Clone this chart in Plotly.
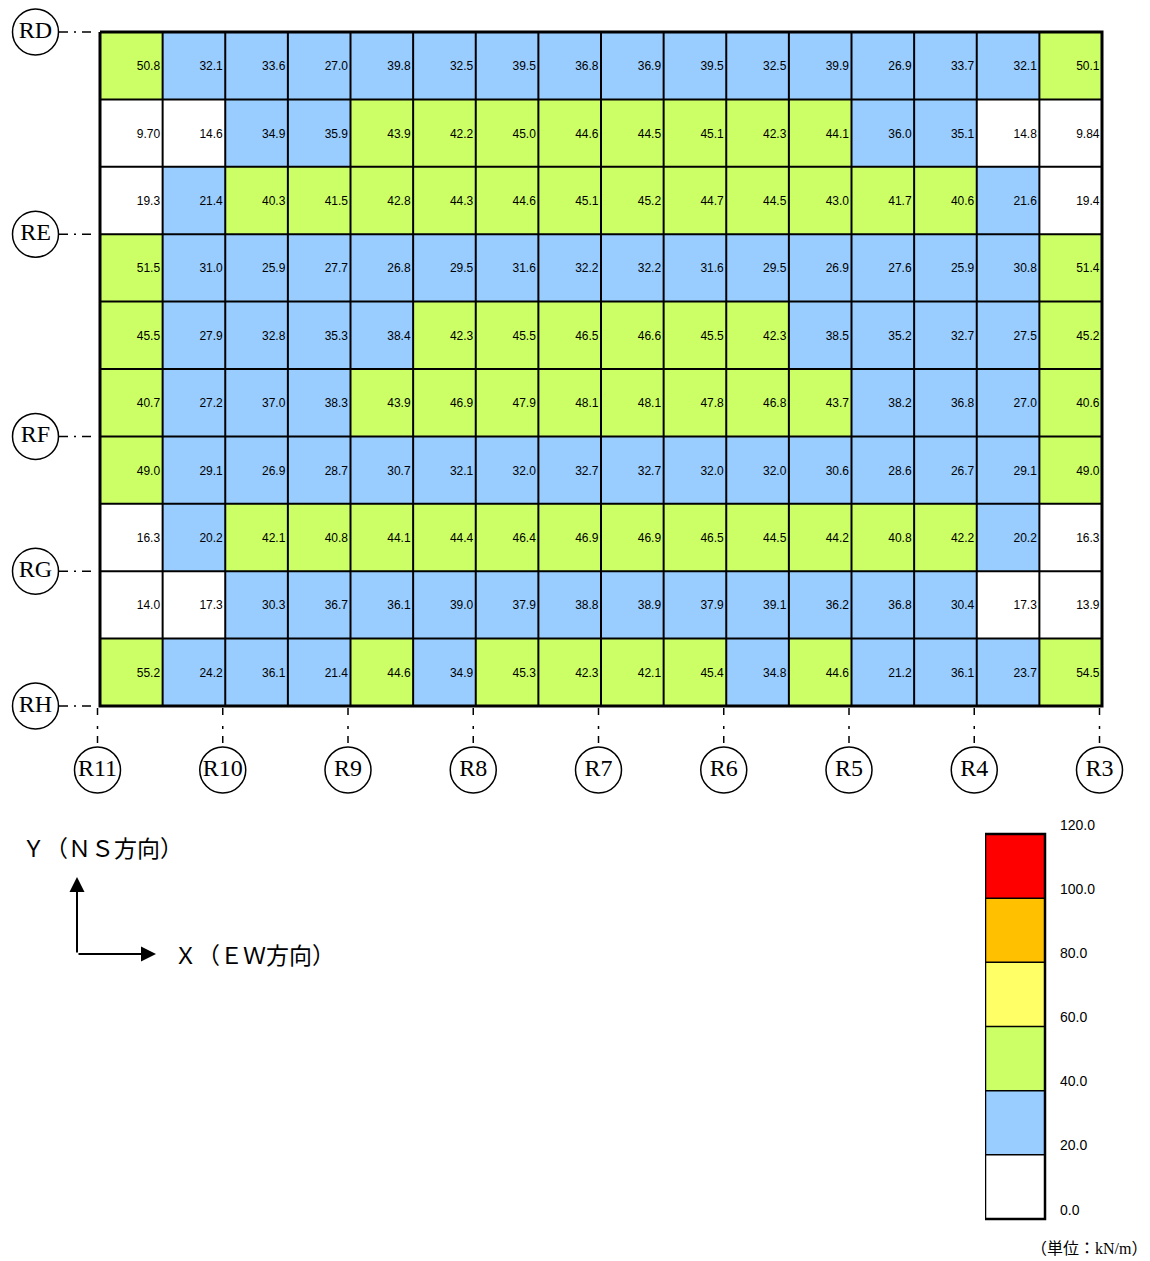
import plotly.graph_objects as go

# ---- panel values (kN/m), one list per strip, top (RD side) to bottom (RH side),
# ---- each running from the R11 side (left) to the R3 side (right)
strip_01 = [50.8, 32.1, 33.6, 27.0, 39.8, 32.5, 39.5, 36.8, 36.9, 39.5, 32.5, 39.9, 26.9, 33.7, 32.1, 50.1]
strip_02 = [9.70, 14.6, 34.9, 35.9, 43.9, 42.2, 45.0, 44.6, 44.5, 45.1, 42.3, 44.1, 36.0, 35.1, 14.8, 9.84]
strip_03 = [19.3, 21.4, 40.3, 41.5, 42.8, 44.3, 44.6, 45.1, 45.2, 44.7, 44.5, 43.0, 41.7, 40.6, 21.6, 19.4]
strip_04 = [51.5, 31.0, 25.9, 27.7, 26.8, 29.5, 31.6, 32.2, 32.2, 31.6, 29.5, 26.9, 27.6, 25.9, 30.8, 51.4]
strip_05 = [45.5, 27.9, 32.8, 35.3, 38.4, 42.3, 45.5, 46.5, 46.6, 45.5, 42.3, 38.5, 35.2, 32.7, 27.5, 45.2]
strip_06 = [40.7, 27.2, 37.0, 38.3, 43.9, 46.9, 47.9, 48.1, 48.1, 47.8, 46.8, 43.7, 38.2, 36.8, 27.0, 40.6]
strip_07 = [49.0, 29.1, 26.9, 28.7, 30.7, 32.1, 32.0, 32.7, 32.7, 32.0, 32.0, 30.6, 28.6, 26.7, 29.1, 49.0]
strip_08 = [16.3, 20.2, 42.1, 40.8, 44.1, 44.4, 46.4, 46.9, 46.9, 46.5, 44.5, 44.2, 40.8, 42.2, 20.2, 16.3]
strip_09 = [14.0, 17.3, 30.3, 36.7, 36.1, 39.0, 37.9, 38.8, 38.9, 37.9, 39.1, 36.2, 36.8, 30.4, 17.3, 13.9]
strip_10 = [55.2, 24.2, 36.1, 21.4, 44.6, 34.9, 45.3, 42.3, 42.1, 45.4, 34.8, 44.6, 21.2, 36.1, 23.7, 54.5]

# grid-line names and the panel boundaries they sit on
row_axis_names = ["RD", "RE", "RF", "RG", "RH"]
row_axis_at = [0, 3, 6, 8, 10]
col_axis_names = ["R11", "R10", "R9", "R8", "R7", "R6", "R5", "R4", "R3"]
col_axis_at = [0, 2, 4, 6, 8, 10, 12, 14, 16]

# legend classes
legend_breaks = [0, 20, 40, 60, 80, 100, 120]
legend_colors = ["#FFFFFF", "#99CCFF", "#CCFF66", "#FFFF66", "#FFC000", "#FF0000"]

cell_values = [strip_01, strip_02, strip_03, strip_04, strip_05,
               strip_06, strip_07, strip_08, strip_09, strip_10]
n_rows = len(cell_values)
n_cols = len(cell_values[0])

# ---- page geometry (pixels)
W, H = 1150, 1261
G_LEFT, G_RIGHT, G_TOP, G_BOTTOM = 100, 1102, 32, 706
PX_COL = (G_RIGHT - G_LEFT) / n_cols
PX_ROW = (G_BOTTOM - G_TOP) / n_rows


def dx(px):
    return (px - G_LEFT) / PX_COL


def dy(py):
    return (py - G_TOP) / PX_ROW


# discrete colour scale built from the legend classes
zmin, zmax = legend_breaks[0], legend_breaks[-1]
colorscale = []
for lo, hi, c in zip(legend_breaks[:-1], legend_breaks[1:], legend_colors):
    colorscale.append([(lo - zmin) / (zmax - zmin), c])
    colorscale.append([(hi - zmin) / (zmax - zmin), c])

fig = go.Figure()

col_centers = [i + 0.5 for i in range(n_cols)]
row_centers = [j + 0.5 for j in range(n_rows)]

fig.add_trace(go.Heatmap(
    z=cell_values, x=col_centers, y=row_centers,
    colorscale=colorscale, zmin=zmin, zmax=zmax,
    showscale=False, hoverinfo="skip",
))

# inner panel lines
gx, gy = [], []
for i in range(1, n_cols):
    gx += [i, i, None]
    gy += [0, n_rows, None]
for j in range(1, n_rows):
    gx += [0, n_cols, None]
    gy += [j, j, None]
fig.add_trace(go.Scatter(x=gx, y=gy, mode="lines",
                         line=dict(color="black", width=2),
                         hoverinfo="skip", showlegend=False))
# outer frame
fig.add_trace(go.Scatter(x=[0, n_cols, n_cols, 0, 0], y=[0, 0, n_rows, n_rows, 0],
                         mode="lines", line=dict(color="black", width=3),
                         hoverinfo="skip", showlegend=False))

# value labels, right-aligned inside each panel
tx, ty, tt = [], [], []
for j, row in enumerate(cell_values):
    for i, v in enumerate(row):
        tx.append(i + 1 - 2.5 / PX_COL)
        ty.append(j + 0.5 + 1.5 / PX_ROW)
        tt.append(f"{v:#.3g}")
fig.add_trace(go.Scatter(x=tx, y=ty, text=tt, mode="text",
                         textposition="middle left",
                         textfont=dict(family="Liberation Sans, Arial", size=12, color="black"),
                         hoverinfo="skip", showlegend=False))

# grid-line leaders (dash-dot)
row_cx = 35.5
for pos in row_axis_at:
    fig.add_trace(go.Scatter(x=[dx(row_cx + 23.5), dx(91)], y=[pos, pos], mode="lines",
                             line=dict(color="black", width=1.5, dash="9px,6px,2px,6px"),
                             hoverinfo="skip", showlegend=False))
col_cy = 770
for pos in col_axis_at:
    xx = pos - 2.5 / PX_COL
    fig.add_trace(go.Scatter(x=[xx, xx], y=[dy(G_BOTTOM + 2), dy(col_cy - 23.5)], mode="lines",
                             line=dict(color="black", width=1.5, dash="7px,11px,3px,7px"),
                             hoverinfo="skip", showlegend=False))

# grid-line bubbles
bubble_font = dict(family="Liberation Serif, DejaVu Serif", size=24, color="black")
bubble_marker = dict(symbol="circle", size=46, color="white", line=dict(color="black", width=1.5))
fig.add_trace(go.Scatter(x=[dx(row_cx)] * len(row_axis_at), y=row_axis_at,
                         text=row_axis_names, mode="markers+text", textposition="middle center",
                         marker=bubble_marker, textfont=bubble_font,
                         hoverinfo="skip", showlegend=False, cliponaxis=False))
fig.add_trace(go.Scatter(x=[p - 2.5 / PX_COL for p in col_axis_at], y=[dy(col_cy)] * len(col_axis_at),
                         text=col_axis_names, mode="markers+text", textposition="middle center",
                         marker=bubble_marker, textfont=bubble_font,
                         hoverinfo="skip", showlegend=False, cliponaxis=False))

# ---- legend bar on its own axes (bar spans x 0..1; the labels sit to its right)
LB_LEFT, LB_RIGHT, LB_TOP, LB_BOTTOM = 985, 1045, 834, 1219
LB_AREA_RIGHT = W
bar_px = LB_RIGHT - LB_LEFT
x2_max = (LB_AREA_RIGHT - LB_LEFT) / bar_px

mids = [(a + b) / 2 for a, b in zip(legend_breaks[:-1], legend_breaks[1:])]
fig.add_trace(go.Heatmap(z=[[m] for m in mids], x=[0, 1], y=legend_breaks,
                         colorscale=colorscale, zmin=zmin, zmax=zmax,
                         showscale=False, hoverinfo="skip", xaxis="x2", yaxis="y2"))
lx, ly = [], []
for b in legend_breaks[1:-1]:
    lx += [0, 1, None]
    ly += [b, b, None]
fig.add_trace(go.Scatter(x=lx, y=ly, mode="lines", line=dict(color="black", width=1.5),
                         xaxis="x2", yaxis="y2", hoverinfo="skip", showlegend=False))
fig.add_trace(go.Scatter(x=[0, 1, 1, 0, 0], y=[zmin, zmin, zmax, zmax, zmin], mode="lines",
                         line=dict(color="black", width=2.5),
                         xaxis="x2", yaxis="y2", hoverinfo="skip", showlegend=False, cliponaxis=False))

units_per_px = (zmax - zmin) / (LB_BOTTOM - LB_TOP)
fig.add_trace(go.Scatter(x=[1 + 15 / bar_px] * len(legend_breaks),
                         y=[b + 8 * units_per_px for b in legend_breaks],
                         text=[f"{b:.1f}" for b in legend_breaks], mode="text",
                         textposition="middle right",
                         textfont=dict(family="Liberation Sans, Arial", size=14, color="black"),
                         xaxis="x2", yaxis="y2", hoverinfo="skip", showlegend=False, cliponaxis=False))

pad_units = 12 * units_per_px
hidden = dict(visible=False, fixedrange=True, showgrid=False, zeroline=False)
fig.update_layout(
    width=W, height=H, autosize=False,
    margin=dict(l=0, r=0, t=0, b=0, pad=0),
    paper_bgcolor="white", plot_bgcolor="rgba(0,0,0,0)",
    showlegend=False,
    xaxis=dict(domain=[0, 1], range=[dx(0), dx(W)], **hidden),
    yaxis=dict(domain=[0, 1], range=[dy(H), dy(0)], **hidden),
    xaxis2=dict(domain=[LB_LEFT / W, LB_AREA_RIGHT / W], range=[0, x2_max], anchor="y2", **hidden),
    yaxis2=dict(domain=[1 - (LB_BOTTOM + 12) / H, 1 - (LB_TOP - 12) / H],
                range=[zmin - pad_units, zmax + pad_units], anchor="x2", **hidden),
)

cjk = "Noto Sans CJK JP"
ax_x0, ax_y0 = 77, 954
fig.add_annotation(x=ax_x0 / W, y=1 - 877 / H, xref="paper", yref="paper", text="",
                   showarrow=True, ax=0, ay=ax_y0 - 877, arrowhead=2, arrowsize=1.5,
                   arrowwidth=2, arrowcolor="black")
fig.add_annotation(x=156 / W, y=1 - ax_y0 / H, xref="paper", yref="paper", text="",
                   showarrow=True, ax=ax_x0 - 156, ay=0, arrowhead=2, arrowsize=1.5,
                   arrowwidth=2, arrowcolor="black")
fig.add_annotation(x=20 / W, y=1 - 847 / H, xref="paper", yref="paper", xanchor="left",
                   yanchor="middle", text="Ｙ（ＮＳ方向）", showarrow=False,
                   font=dict(family=cjk, size=23, color="black"))
fig.add_annotation(x=172 / W, y=1 - 954 / H, xref="paper", yref="paper", xanchor="left",
                   yanchor="middle", text="Ｘ（ＥＷ方向）", showarrow=False,
                   font=dict(family=cjk, size=23, color="black"))
fig.add_annotation(x=1149 / W, y=1 - 1248 / H, xref="paper", yref="paper", xanchor="right",
                   yanchor="middle", text="（単位：kN/m）", showarrow=False,
                   font=dict(family="Liberation Serif, " + cjk, size=16, color="black"))

fig.write_html("out.html")
